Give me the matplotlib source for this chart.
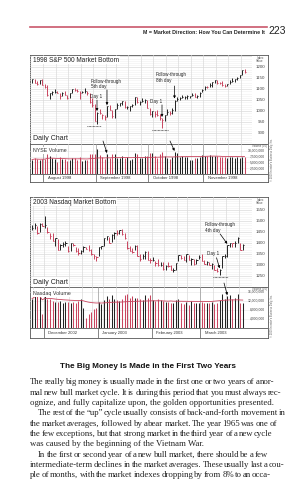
import numpy as np
import pandas as pd
import matplotlib
matplotlib.use('Agg')
import matplotlib.pyplot as plt

W, H = 297, 480
RED = '#c9455f'
DARK = '#222222'
GRID = '#dadada'
SANS = ['Liberation Sans', 'DejaVu Sans']
NARROW = ['Liberation Sans Narrow', 'Liberation Sans', 'DejaVu Sans']
SERIF = ['Liberation Serif', 'DejaVu Serif']

# 1998 S&P 500 daily bars, Jul 27 - Nov 24 1998 (NYSE volume in millions of shares)
sp_high = [1148, 1147, 1138, 1143, 1145,
           1122, 1119, 1084, 1090, 1103, 1092, 1083, 1086, 1092, 1076, 1085, 1102, 1106, 1100, 1091, 1093, 1106, 1092, 1084, 1062, 1033,
           996, 1008, 989, 984, 1023, 1027, 1007, 1009, 1037, 1037, 1045, 1045, 1022, 1024, 1033, 1066, 1066, 1047, 1061, 1057, 1049,
           1017, 1003, 1001, 1007, 988, 970, 985, 1011, 1001, 1013, 1053, 1063, 1065, 1075, 1068, 1072, 1071, 1081, 1082, 1072, 1086, 1103,
           1115, 1114, 1127, 1133, 1142, 1141, 1135, 1136, 1125, 1126, 1141, 1153, 1145, 1155, 1163, 1188, 1192]
sp_low = [1128, 1127, 1121, 1125, 1118,
          1108, 1071, 1058, 1074, 1085, 1081, 1056, 1068, 1074, 1057, 1059, 1084, 1094, 1087, 1057, 1081, 1085, 1075, 1037, 1021, 957,
          940, 987, 967, 960, 976, 1005, 969, 968, 1010, 1022, 1030, 1014, 1012, 1000, 1021, 1029, 1036, 1029, 1042, 1039, 1017,
          981, 973, 972, 979, 960, 923, 955, 985, 983, 987, 1000, 1047, 1053, 1059, 1056, 1055, 1062, 1068, 1063, 1060, 1065, 1086,
          1098, 1106, 1110, 1111, 1128, 1124, 1122, 1117, 1112, 1115, 1125, 1133, 1131, 1143, 1152, 1163, 1176]
sp_close = [1147, 1130, 1125, 1143, 1121,
            1112, 1072, 1081, 1089, 1089, 1083, 1068, 1084, 1075, 1062, 1083, 1101, 1099, 1091, 1081, 1088, 1092, 1085, 1042, 1027, 957,
            994, 990, 982, 973, 1023, 1007, 980, 1009, 1029, 1037, 1045, 1018, 1020, 1023, 1029, 1066, 1043, 1044, 1048, 1049, 1017,
            986, 1002, 988, 985, 970, 959, 984, 997, 994, 1005, 1047, 1056, 1062, 1063, 1066, 1070, 1071, 1072, 1066, 1069, 1085, 1098,
            1111, 1110, 1118, 1133, 1141, 1130, 1128, 1120, 1117, 1125, 1135, 1139, 1145, 1152, 1163, 1188, 1180]
nyse_vol = [620, 680, 640, 620, 650,
            640, 850, 780, 680, 640, 540, 720, 650, 640, 560, 590, 690, 680, 620, 730, 560, 620, 590, 860, 870, 880,
            1100, 810, 720, 640, 850, 700, 880, 860, 700, 680, 780, 700, 730, 600, 660, 900, 850, 680, 680, 760, 800,
            900, 900, 780, 700, 880, 950, 780, 700, 640, 720, 940, 900, 720, 780, 720, 750, 620, 600, 700, 700, 730, 830,
            800, 780, 810, 800, 780, 760, 720, 740, 720, 700, 720, 730, 700, 730, 700, 750, 740]
sp_dates = pd.bdate_range('1998-07-27', '1998-11-24').drop(pd.Timestamp('1998-09-07'))

# 2003 Nasdaq daily bars, Nov 22 2002 - Mar 25 2003 (volume in millions of shares)
nq_high = [1480, 1490, 1478, 1489, 1492,
           1521, 1472, 1445, 1445, 1423, 1416, 1394, 1403, 1410, 1388, 1400, 1400, 1382, 1378, 1366, 1386, 1382, 1390, 1373, 1350, 1342,
           1384, 1388, 1422, 1433, 1428, 1439, 1450, 1461, 1461, 1463, 1447, 1410, 1385, 1375, 1393, 1389, 1350, 1348, 1362, 1365, 1330,
           1336, 1316, 1325, 1312, 1312, 1298, 1314, 1300, 1285, 1310, 1346, 1345, 1342, 1350, 1345, 1330, 1328, 1328, 1344,
           1350, 1322, 1316, 1315, 1307, 1300, 1288, 1281, 1341, 1352, 1392, 1400, 1401, 1408, 1425, 1400, 1395]
nq_low = [1460, 1465, 1441, 1450, 1476,
          1470, 1446, 1416, 1408, 1385, 1366, 1368, 1380, 1388, 1361, 1364, 1385, 1358, 1345, 1352, 1361, 1371, 1365, 1346, 1329, 1320,
          1341, 1374, 1388, 1412, 1398, 1406, 1420, 1436, 1439, 1436, 1420, 1373, 1363, 1355, 1368, 1342, 1318, 1325, 1325, 1322, 1307,
          1316, 1295, 1296, 1294, 1277, 1276, 1290, 1277, 1267, 1278, 1318, 1326, 1322, 1313, 1321, 1300, 1302, 1305, 1325,
          1318, 1303, 1298, 1299, 1282, 1278, 1270, 1253, 1287, 1331, 1335, 1381, 1383, 1380, 1402, 1368, 1369]
nq_close = [1468, 1482, 1444, 1488, 1479,
            1484, 1448, 1430, 1410, 1422, 1367, 1390, 1396, 1399, 1362, 1400, 1392, 1362, 1354, 1363, 1381, 1372, 1367, 1348, 1339, 1336,
            1384, 1387, 1421, 1431, 1401, 1438, 1447, 1446, 1460, 1439, 1423, 1376, 1364, 1359, 1388, 1343, 1326, 1342, 1359, 1323, 1321,
            1323, 1307, 1301, 1302, 1282, 1296, 1295, 1278, 1278, 1310, 1346, 1334, 1323, 1349, 1322, 1328, 1303, 1323, 1337,
            1320, 1305, 1314, 1302, 1305, 1279, 1271, 1279, 1340, 1340, 1392, 1400, 1398, 1402, 1421, 1370, 1391]
nq_vol = [1300, 1450, 1500, 1400, 600,
          1650, 1300, 1300, 1200, 1150, 1150, 1200, 1100, 1150, 1150, 1100, 1150, 1100, 1200, 1300, 900, 450, 600, 700, 850, 900,
          1150, 1050, 1250, 1400, 1300, 1450, 1300, 1250, 1200, 1300, 1450, 1500, 1350, 1400, 1350, 1350, 1300, 1250, 1450, 1350, 1450,
          1250, 1200, 1300, 1250, 1200, 1150, 1150, 1100, 1100, 1250, 1300, 1100, 1050, 1150, 1000, 1200, 1100, 1100, 1100,
          1150, 1100, 1100, 1100, 1150, 1050, 1100, 1250, 1500, 1300, 1400, 1450, 1300, 1350, 1500, 1100, 1100]
nq_dates = pd.bdate_range('2002-11-22', '2003-03-25').drop(
    pd.to_datetime(['2002-11-28', '2002-12-25', '2003-01-01', '2003-01-20', '2003-02-17']))

sp_ticks = [900, 950, 1000, 1050, 1100, 1150, 1200]
nq_ticks = [1250, 1300, 1350, 1400, 1450, 1500, 1550]
nyse_vticks = [250, 500, 750, 1000]
nyse_vlabels = ['2,500,000', '5,000,000', '7,500,000', '10,000,000']
nq_vticks = [400, 800, 1200, 1600]
nq_vlabels = ['4,000,000', '8,000,000', '12,000,000', '16,000,000']

body = [
    ("The really big money is usually made in the first one or two years of a nor-", False, True),
    ("mal new bull market cycle. It is during this period that you must always rec-", False, True),
    ("ognize, and fully capitalize upon, the golden opportunities presented.", False, False),
    ("The rest of the \u201cup\u201d cycle usually consists of back-and-forth movement in", True, True),
    ("the market averages, followed by a bear market. The year 1965 was one of", False, True),
    ("the few exceptions, but that strong market in the third year of a new cycle", False, True),
    ("was caused by the beginning of the Vietnam War.", False, False),
    ("In the first or second year of a new bull market, there should be a few", True, True),
    ("intermediate-term declines in the market averages. These usually last a cou-", False, True),
    ("ple of months, with the market indexes dropping by from 8% to an occa-", False, True),
]

fig = plt.figure(figsize=(W / 100, H / 100), dpi=100)


def px_axes(x0, y0, x1, y1):
    return fig.add_axes([x0 / W, 1 - y1 / H, (x1 - x0) / W, (y1 - y0) / H])


def ftext(x, y, s, **kw):
    return fig.text(x / W, 1 - y / H, s, **kw)


def draw_chart(rows, title, dates, hi, lo, cl, vol, plim, pticks, vlim, vticks, vlabels, vname, step):
    top, p_bot, v_bot, bottom = rows
    x = np.arange(len(dates))
    xlim = (-2 / step, -2 / step + 222 / step)
    newweek = [i for i in range(1, len(dates)) if dates[i].weekday() < dates[i - 1].weekday()]
    months = [i for i in range(1, len(dates)) if dates[i].month != dates[i - 1].month]

    frame = px_axes(30, top, 268, bottom)
    frame.set_xticks([])
    frame.set_yticks([])
    for s in frame.spines.values():
        s.set_color('#555555')
        s.set_linewidth(0.6)
    for yy in (p_bot, v_bot):
        frame.axhline((bottom - yy) / (bottom - top), color='#555555', lw=0.6)

    # price panel
    pa = px_axes(30, top, 252, p_bot)
    pa.set_xlim(xlim)
    pa.set_ylim(plim)
    pa.axis('off')
    for t in range(int(plim[0]) // 10 * 10, int(plim[1]), 10):
        pa.axhline(t, color='#efefef' if t % 50 else GRID, lw=0.4 if t % 50 else 0.5, zorder=0)
    for i in newweek:
        pa.axvline(i - 0.5, color=GRID, lw=0.5, zorder=0)
    up = np.r_[True, np.diff(cl) >= 0]
    cols = np.where(up, DARK, RED)
    pa.vlines(x, lo, hi, colors=cols, lw=0.7)
    pa.hlines(cl, x, x + 0.55, colors=cols, lw=0.7)
    for t in pticks:
        pa.text(1.0586, t, str(t), transform=pa.get_yaxis_transform(), ha='right', va='center',
                fontsize=3.2, family=SANS, color='#444444')
    ftext(260, top + 4.5, 'Index\nValue', fontsize=2.2, family=SANS, color='#555555',
          ha='center', va='center', linespacing=0.9)

    # volume panel
    va = px_axes(30, p_bot, 252, v_bot)
    va.set_xlim(xlim)
    va.set_ylim(vlim)
    va.axis('off')
    for t in vticks:
        va.axhline(t, color='#e6e6e6', lw=0.4, zorder=0)
    for i in newweek:
        va.axvline(i - 0.5, color=GRID, lw=0.5, zorder=0)
    for i in months:
        va.axvline(i - 0.5, color='#999999', lw=0.5, zorder=0)
    va.vlines(x, 0, vol, colors=cols, lw=0.75)
    ma = pd.Series(vol).rolling(50, min_periods=1).mean()
    va.plot(x, ma, color=RED, lw=0.6)
    for t, lab in zip(vticks, vlabels):
        va.text(1.0586, t, lab, transform=va.get_yaxis_transform(), ha='right', va='center',
                fontsize=2.4, family=SANS, color='#444444')
    ftext(260, p_bot + 2.2, 'Volume (00)', fontsize=2.0, family=SANS, color='#555555', ha='center', va='center')
    ftext(33, p_bot + 6.5, vname, fontsize=3.8, family=SANS, color='#333333', va='center',
          bbox=dict(facecolor='white', edgecolor='none', pad=0.4))

    # date row
    da = px_axes(30, v_bot, 252, bottom)
    da.set_xlim(xlim)
    da.set_ylim(0, 1)
    da.axis('off')
    for i in months:
        da.axvline(i - 0.5, color='#555555', lw=0.5)
        da.text(i + 1.2, 0.5, dates[i].strftime('%B %Y'), fontsize=3.0, family=SANS,
                color='#333333', va='center')

    ftext(33, top + 5, title, fontsize=4.7, family=SANS, color='#222222', va='center',
          bbox=dict(facecolor='white', edgecolor='none', pad=0.6))
    ftext(33, p_bot - 5, 'Daily Chart', fontsize=5.0, family=SANS, color='#222222', va='center',
          bbox=dict(facecolor='white', edgecolor='none', pad=0.8))
    ftext(271.5, bottom - 22, '\u00a9 2009 Investor\u2019s Business Daily, Inc.', fontsize=1.8,
          family=SANS, color='#555555', rotation=90, ha='center', va='center')
    return pa, va


def arrow(ax, tip, tail, tailcoords='data'):
    ax.annotate('', xy=tip, xytext=tail, textcoords=tailcoords, annotation_clip=False,
                arrowprops=dict(arrowstyle='-|>', color='black', lw=0.5, mutation_scale=3.5,
                                shrinkA=0, shrinkB=0))


def note(ax, xpos, ypos, s):
    ax.text(xpos, ypos, s, fontsize=3.3, family=SANS, color='#222222', va='top', linespacing=1.05)


# page header
fig.add_artist(plt.Line2D([30 / W, 267 / W], [1 - 27 / H, 1 - 27 / H], color='#c9586b', lw=1.2))
ftext(265, 32.5, 'M = Market Direction: How You Can Determine It', fontsize=3.8, family=NARROW,
      weight='bold', ha='right', va='center', color='#222222')
ftext(268, 31.5, '223', fontsize=7.5, family=NARROW, ha='left', va='center', color='#222222')

# chart 1: 1998 S&P 500
pa1, va1 = draw_chart((55, 144, 174, 182), '1998 S&P 500 Market Bottom', sp_dates, sp_high, sp_low, sp_close,
                      nyse_vol, (851, 1256), sp_ticks, (0, 1300), nyse_vticks, nyse_vlabels, 'NYSE Volume', 2.5)
note(pa1, 23.6, 1146, 'Follow-through\n5th day')
arrow(pa1, (30, sp_high[30] + 5), (30, 1097))
note(pa1, 23.2, 1078, 'Day 1')
arrow(pa1, (26, sp_high[26] + 5), (26, 1051))
pa1.plot([22, 27.6], [931, 931], color='black', lw=0.5, ls=(0, (1, 1)))
note(pa1, 47.2, 1055, 'Day 1')
arrow(pa1, (52, sp_high[52] + 4), (52, 1029))
pa1.plot([48, 54.4], [914, 914], color='black', lw=0.5, ls=(0, (1, 1)))
note(pa1, 49.6, 1177, 'Follow-through\n8th day')
arrow(pa1, (57, sp_high[57] + 5), (57, 1115))
arrow(va1, (30, nyse_vol[30] + 60), (103, H - 141), 'figure pixels')
arrow(va1, (57, nyse_vol[57] + 60), (170, H - 141), 'figure pixels')

# chart 2: 2003 Nasdaq
pa2, va2 = draw_chart((197, 287, 328, 338), '2003 Nasdaq Market Bottom', nq_dates, nq_high, nq_low, nq_close,
                      nq_vol, (1200, 1609), nq_ticks, (0, 1820), nq_vticks, nq_vlabels, 'Nasdaq Volume', 2.57)
note(pa2, 67.3, 1494, 'Follow-through\n4th day')
arrow(pa2, (76, nq_high[76] + 4), (73.2, 1441))
note(pa2, 68.1, 1362, 'Day 1')
arrow(pa2, (73, nq_high[73] + 4), (71.8, 1333))
pa2.plot([70.4, 76.3], [1247, 1247], color='black', lw=0.5, ls=(0, (1, 1)))
arrow(va2, (76, nq_vol[76] + 60), (224, H - 283), 'figure pixels')

# heading and body text
ftext(148.5, 366, 'The Big Money Is Made in the First Two Years', fontsize=5.9, family=NARROW,
      weight='bold', ha='center', va='center', color='#111111')

renderer = fig.canvas.get_renderer()
body_kw = dict(fontsize=6.3, family=SERIF, color='#222222', va='baseline')
for k, (line, indent, justify) in enumerate(body):
    yb = 384.5 + 10.3 * k
    x0 = 38 if indent else 30
    if not justify:
        ftext(x0, yb, line, **body_kw)
        continue
    words = line.split()
    objs = [ftext(0, yb, w, **body_kw) for w in words]
    widths = [o.get_window_extent(renderer).width for o in objs]
    gap = max((268 - x0 - sum(widths)) / (len(words) - 1), 1.0)
    xx = x0
    for o, w in zip(objs, widths):
        o.set_x(xx / W)
        xx += w + gap

fig.savefig('out.png', dpi=100, facecolor='white')
